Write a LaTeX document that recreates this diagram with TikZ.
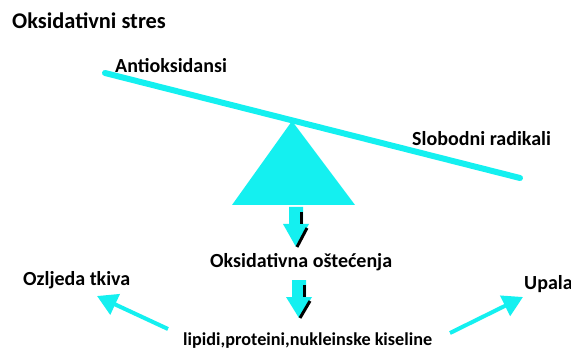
\documentclass[tikz,border=0pt]{standalone}
\usepackage{fontspec}
\setmainfont{Carlito}
\usetikzlibrary{arrows.meta}
\definecolor{cyancol}{RGB}{20,240,240}
\tikzset{
  label/.style={font={\fontsize{20}{24}\selectfont\bfseries},inner sep=0pt},
  title/.style={font={\fontsize{22.4}{26}\selectfont\bfseries},inner sep=0pt},
  small/.style={font={\fontsize{18.2}{22}\selectfont\bfseries},inner sep=0pt},
  beam/.style={cyancol,line width=6pt,line cap=round},
  thinarrow/.style={cyancol,line width=4pt,-{Triangle[length=20pt,width=22pt]}},
  blockarrow/.style={fill=cyancol},
  shadow/.style={black,line width=3pt},
}

\begin{document}
\begin{tikzpicture}[x=1pt,y=-1pt]
  \useasboundingbox[fill=white] (0,0) rectangle (571,350);

  \node[title,anchor=base west] (stres) at (12,29) {Oksidativni stres};
  \node[label,anchor=base west] (anti) at (115,73) {Antioksidansi};
  \node[label,anchor=base west] (radik) at (412,146) {Slobodni radikali};

  % vaga
  \coordinate (left) at (105,73);
  \coordinate (right) at (520,178);
  \draw[beam] (left) -- (right);
  \fill[cyancol] (292,121) -- (355,205) -- (232,205) -- cycle;

  \node[label,anchor=base west] (ostec) at (210,268) {Oksidativna oštećenja};
  \node[small,anchor=base west] (lipid) at (183,345) {lipidi,proteini,nukleinske kiseline};
  \node[label,anchor=base west] (ozlj) at (23,285) {Ozljeda tkiva};
  \node[label,anchor=base west] (upala) at (524,290) {Upala};

  % strelice prema dolje
  \foreach \cx/\top/\neck/\tip in {296/207/224/247, 299/280/297/318} {
    \fill[blockarrow] (\cx-7,\top) -- (\cx+7,\top) -- (\cx+7,\neck) -- (\cx+13,\neck)
      -- (\cx,\tip) -- (\cx-13,\neck) -- (\cx-7,\neck) -- cycle;
    \draw[shadow] (\cx+5,\top+5) -- (\cx+5,\neck);
    \draw[shadow] (\cx+11,\neck+4) -- (\cx+1,\tip);
  }

  \coordinate (lstart) at (168,329);
  \coordinate (lend) at (97,296);
  \coordinate (rstart) at (450,333);
  \coordinate (rend) at (523,297);
  \draw[thinarrow] (lstart) -- (lend);
  \draw[thinarrow] (rstart) -- (rend);
\end{tikzpicture}
\end{document}
